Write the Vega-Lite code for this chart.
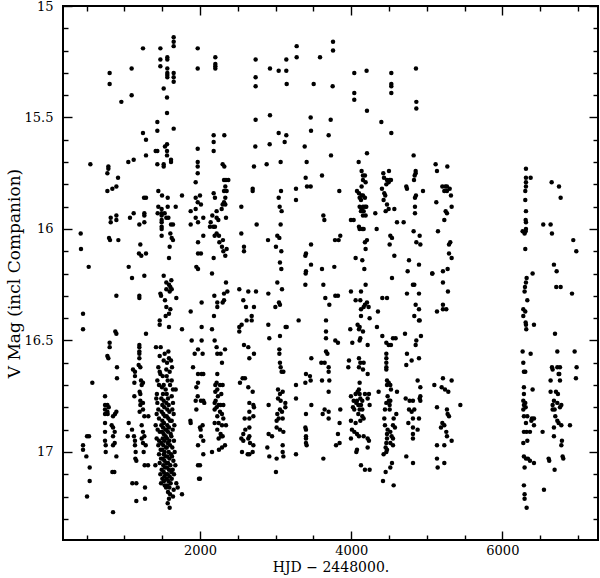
{
"$schema": "https://vega.github.io/schema/vega-lite/v6.json",
"width": 535, "height": 534,
"autosize": "none",
"padding": {"left": 63, "top": 6, "right": 2, "bottom": 38},
"background": "white",
"config": {
 "view": {"stroke": "black", "strokeWidth": 2},
 "axis": {"grid": false, "domain": false, "tickColor": "black", "tickWidth": 1.4, "labelColor": "black", "titleColor": "black", "labelFont": "DejaVu Serif", "titleFont": "DejaVu Serif", "labelFontSize": 13, "titleFontSize": 13, "titleFontWeight": "normal"}
},
"data": {"values": [
{"hjd":1652,"vmag":15.14},{"hjd":1652,"vmag":15.16},{"hjd":1652,"vmag":15.18},{"hjd":1246,"vmag":15.19},{"hjd":1476,"vmag":15.19},{"hjd":1970,"vmag":15.19},
{"hjd":1568,"vmag":15.23},{"hjd":1568,"vmag":15.24},{"hjd":1476,"vmag":15.24},{"hjd":1476,"vmag":15.27},{"hjd":1970,"vmag":15.28},{"hjd":1568,"vmag":15.28},{"hjd":805,"vmag":15.30},{"hjd":1096,"vmag":15.28},
{"hjd":1568,"vmag":15.30},{"hjd":1568,"vmag":15.31},{"hjd":1568,"vmag":15.32},{"hjd":1652,"vmag":15.30},{"hjd":1652,"vmag":15.32},{"hjd":1652,"vmag":15.34},{"hjd":805,"vmag":15.35},{"hjd":1096,"vmag":15.40},{"hjd":960,"vmag":15.43},{"hjd":1520,"vmag":15.37},{"hjd":1564,"vmag":15.41},{"hjd":1564,"vmag":15.48},{"hjd":1436,"vmag":15.52},{"hjd":1436,"vmag":15.56},{"hjd":1652,"vmag":15.55},{"hjd":1246,"vmag":15.57},{"hjd":1286,"vmag":15.60},{"hjd":1970,"vmag":15.64},{"hjd":1414,"vmag":15.65},{"hjd":1436,"vmag":15.65},{"hjd":1564,"vmag":15.62},{"hjd":1537,"vmag":15.63},{"hjd":1564,"vmag":15.65},{"hjd":1564,"vmag":15.67},{"hjd":1617,"vmag":15.69},{"hjd":1617,"vmag":15.70},{"hjd":1286,"vmag":15.67},{"hjd":1052,"vmag":15.70},{"hjd":1123,"vmag":15.69},{"hjd":1436,"vmag":15.71},{"hjd":1520,"vmag":15.71},{"hjd":1520,"vmag":15.72},{"hjd":1970,"vmag":15.70},{"hjd":1970,"vmag":15.72},{"hjd":550,"vmag":15.71},{"hjd":788,"vmag":15.72},{"hjd":788,"vmag":15.73},{"hjd":775,"vmag":15.75},{"hjd":916,"vmag":15.77},{"hjd":1970,"vmag":15.75},{"hjd":1943,"vmag":15.79},{"hjd":775,"vmag":15.83},{"hjd":841,"vmag":15.82},{"hjd":894,"vmag":15.81},{"hjd":1449,"vmag":15.83},{"hjd":1498,"vmag":15.85},{"hjd":1762,"vmag":15.85},{"hjd":1573,"vmag":15.86},{"hjd":1260,"vmag":15.86},{"hjd":1286,"vmag":15.86},{"hjd":1943,"vmag":15.86},{"hjd":1970,"vmag":15.88},{"hjd":1573,"vmag":15.90},{"hjd":1449,"vmag":15.90},{"hjd":1679,"vmag":15.90},{"hjd":1877,"vmag":15.92},{"hjd":1943,"vmag":15.91},
{"hjd":1493,"vmag":15.91},{"hjd":1493,"vmag":15.93},{"hjd":1493,"vmag":15.94},{"hjd":1493,"vmag":15.96},{"hjd":1493,"vmag":15.97},{"hjd":1493,"vmag":15.99},{"hjd":1493,"vmag":16.00},{"hjd":1493,"vmag":16.03},
{"hjd":1533,"vmag":15.93},{"hjd":1555,"vmag":15.95},{"hjd":1440,"vmag":15.93},{"hjd":1582,"vmag":15.95},{"hjd":1264,"vmag":15.93},{"hjd":1264,"vmag":15.94},{"hjd":1123,"vmag":15.93},{"hjd":894,"vmag":15.94},{"hjd":894,"vmag":15.96},{"hjd":819,"vmag":15.95},{"hjd":819,"vmag":15.97},{"hjd":1074,"vmag":15.95},{"hjd":1198,"vmag":15.98},{"hjd":1264,"vmag":15.97},{"hjd":1617,"vmag":15.98},{"hjd":1643,"vmag":15.98},{"hjd":1877,"vmag":15.98},{"hjd":1943,"vmag":15.95},{"hjd":1974,"vmag":15.97},
{"hjd":1608,"vmag":16.02},{"hjd":1626,"vmag":16.04},{"hjd":1643,"vmag":16.05},{"hjd":1599,"vmag":16.08},{"hjd":1590,"vmag":16.13},{"hjd":422,"vmag":16.02},{"hjd":797,"vmag":16.04},{"hjd":810,"vmag":16.05},{"hjd":920,"vmag":16.05},{"hjd":1211,"vmag":16.07},{"hjd":1193,"vmag":16.11},{"hjd":1224,"vmag":16.12},{"hjd":1286,"vmag":16.11},{"hjd":426,"vmag":16.09},{"hjd":1974,"vmag":16.06},{"hjd":1974,"vmag":16.11},{"hjd":528,"vmag":16.17},{"hjd":1057,"vmag":16.17},{"hjd":1952,"vmag":16.17},{"hjd":1974,"vmag":16.18},
{"hjd":1101,"vmag":16.22},{"hjd":1264,"vmag":16.21},{"hjd":1520,"vmag":16.21},{"hjd":1621,"vmag":16.23},{"hjd":1555,"vmag":16.24},{"hjd":1590,"vmag":16.25},{"hjd":1608,"vmag":16.26},{"hjd":1555,"vmag":16.27},{"hjd":1599,"vmag":16.28},{"hjd":1626,"vmag":16.27},{"hjd":894,"vmag":16.30},{"hjd":1198,"vmag":16.30},{"hjd":1198,"vmag":16.31},{"hjd":1476,"vmag":16.29},{"hjd":1485,"vmag":16.30},{"hjd":1687,"vmag":16.31},{"hjd":1537,"vmag":16.32},{"hjd":1555,"vmag":16.35},{"hjd":1608,"vmag":16.36},{"hjd":1590,"vmag":16.38},{"hjd":1546,"vmag":16.39},{"hjd":453,"vmag":16.38},{"hjd":453,"vmag":16.45},{"hjd":1467,"vmag":16.41},{"hjd":1467,"vmag":16.43},{"hjd":1590,"vmag":16.44},{"hjd":1762,"vmag":16.45},{"hjd":1877,"vmag":16.37},{"hjd":880,"vmag":16.46},{"hjd":894,"vmag":16.47},{"hjd":1286,"vmag":16.47},{"hjd":1890,"vmag":16.50},{"hjd":805,"vmag":16.51},{"hjd":805,"vmag":16.53},{"hjd":775,"vmag":16.57},{"hjd":788,"vmag":16.58},
{"hjd":1198,"vmag":16.52},{"hjd":1198,"vmag":16.53},{"hjd":1198,"vmag":16.55},{"hjd":1198,"vmag":16.56},{"hjd":1198,"vmag":16.58},{"hjd":1418,"vmag":16.53},{"hjd":1480,"vmag":16.53},{"hjd":1582,"vmag":16.55},{"hjd":1533,"vmag":16.56},{"hjd":1467,"vmag":16.57},{"hjd":1520,"vmag":16.59},{"hjd":1617,"vmag":16.59},{"hjd":1564,"vmag":16.60},{"hjd":1189,"vmag":16.61},{"hjd":1211,"vmag":16.62},{"hjd":1114,"vmag":16.63},{"hjd":1140,"vmag":16.64},{"hjd":902,"vmag":16.62},{"hjd":902,"vmag":16.67},{"hjd":1467,"vmag":16.64},{"hjd":1555,"vmag":16.63},{"hjd":1599,"vmag":16.64},{"hjd":576,"vmag":16.69},{"hjd":1507,"vmag":16.66},{"hjd":1573,"vmag":16.68},{"hjd":1626,"vmag":16.68},{"hjd":1520,"vmag":16.70},{"hjd":1458,"vmag":16.70},{"hjd":1546,"vmag":16.72},{"hjd":1643,"vmag":16.72},{"hjd":1679,"vmag":16.72},{"hjd":1140,"vmag":16.66},{"hjd":1132,"vmag":16.69},{"hjd":1220,"vmag":16.68},{"hjd":1246,"vmag":16.69},{"hjd":1229,"vmag":16.70},{"hjd":1202,"vmag":16.73},
{"hjd":744,"vmag":16.75},{"hjd":744,"vmag":16.79},{"hjd":744,"vmag":16.81},{"hjd":744,"vmag":16.83},{"hjd":744,"vmag":16.87},{"hjd":775,"vmag":16.79},{"hjd":793,"vmag":16.80},{"hjd":775,"vmag":16.82},{"hjd":779,"vmag":16.83},{"hjd":894,"vmag":16.82},{"hjd":876,"vmag":16.83},{"hjd":850,"vmag":16.84},{"hjd":1132,"vmag":16.75},{"hjd":1211,"vmag":16.74},{"hjd":1211,"vmag":16.77},{"hjd":1246,"vmag":16.78},{"hjd":1211,"vmag":16.79},{"hjd":1246,"vmag":16.81},{"hjd":1202,"vmag":16.82},{"hjd":1264,"vmag":16.84},{"hjd":1317,"vmag":16.84},
{"hjd":1057,"vmag":16.87},{"hjd":1044,"vmag":16.93},{"hjd":1101,"vmag":16.90},{"hjd":1127,"vmag":16.93},{"hjd":1140,"vmag":16.95},{"hjd":1140,"vmag":16.97},{"hjd":1149,"vmag":17.00},{"hjd":1145,"vmag":17.03},{"hjd":1158,"vmag":17.04},{"hjd":1229,"vmag":16.88},{"hjd":1246,"vmag":16.91},{"hjd":1264,"vmag":16.93},{"hjd":1229,"vmag":16.94},{"hjd":1246,"vmag":16.96},{"hjd":1282,"vmag":16.97},{"hjd":1255,"vmag":17.00},{"hjd":1268,"vmag":17.06},{"hjd":1313,"vmag":17.06},{"hjd":744,"vmag":16.91},{"hjd":744,"vmag":16.95},{"hjd":753,"vmag":16.97},{"hjd":753,"vmag":17.00},{"hjd":832,"vmag":16.88},{"hjd":850,"vmag":16.89},{"hjd":872,"vmag":16.91},{"hjd":850,"vmag":16.93},{"hjd":872,"vmag":16.96},{"hjd":850,"vmag":16.97},{"hjd":894,"vmag":17.02},{"hjd":453,"vmag":16.97},{"hjd":453,"vmag":16.99},{"hjd":506,"vmag":16.93},{"hjd":532,"vmag":16.93},{"hjd":497,"vmag":17.02},{"hjd":541,"vmag":17.07},{"hjd":541,"vmag":17.13},{"hjd":506,"vmag":17.20},{"hjd":841,"vmag":17.09},{"hjd":867,"vmag":17.09},{"hjd":850,"vmag":17.27},{"hjd":1105,"vmag":17.14},{"hjd":1158,"vmag":17.14},{"hjd":1158,"vmag":17.22},{"hjd":1273,"vmag":17.21},{"hjd":1273,"vmag":17.16},{"hjd":1410,"vmag":17.06},
{"hjd":1877,"vmag":16.87},{"hjd":1873,"vmag":16.86},{"hjd":1974,"vmag":16.97},{"hjd":1974,"vmag":17.06},{"hjd":1987,"vmag":17.12},{"hjd":1974,"vmag":16.65},{"hjd":1974,"vmag":16.69},{"hjd":1952,"vmag":16.71},{"hjd":1970,"vmag":16.75},{"hjd":1943,"vmag":16.77},{"hjd":1952,"vmag":16.81},{"hjd":1930,"vmag":16.56},{"hjd":1974,"vmag":16.54},{"hjd":1908,"vmag":16.62},
{"hjd":1430,"vmag":16.74},{"hjd":1422,"vmag":16.76},{"hjd":1436,"vmag":16.78},{"hjd":1449,"vmag":16.81},{"hjd":1427,"vmag":16.83},{"hjd":1458,"vmag":16.85},{"hjd":1414,"vmag":16.88},{"hjd":1440,"vmag":16.90},{"hjd":1467,"vmag":16.91},{"hjd":1427,"vmag":16.94},{"hjd":1458,"vmag":16.95},{"hjd":1449,"vmag":16.97},{"hjd":1480,"vmag":16.99},{"hjd":1458,"vmag":17.01},{"hjd":1485,"vmag":17.03},{"hjd":1467,"vmag":17.05},{"hjd":1493,"vmag":17.08},{"hjd":1476,"vmag":17.10},{"hjd":1502,"vmag":17.12},{"hjd":1485,"vmag":17.14},{"hjd":1533,"vmag":17.15},
{"hjd":1498,"vmag":16.71},{"hjd":1511,"vmag":16.74},{"hjd":1489,"vmag":16.76},{"hjd":1520,"vmag":16.77},{"hjd":1502,"vmag":16.79},{"hjd":1529,"vmag":16.80},{"hjd":1493,"vmag":16.82},{"hjd":1515,"vmag":16.83},{"hjd":1537,"vmag":16.84},{"hjd":1502,"vmag":16.86},{"hjd":1524,"vmag":16.87},{"hjd":1489,"vmag":16.88},{"hjd":1511,"vmag":16.89},{"hjd":1542,"vmag":16.90},{"hjd":1498,"vmag":16.91},{"hjd":1520,"vmag":16.92},{"hjd":1546,"vmag":16.93},{"hjd":1507,"vmag":16.94},{"hjd":1529,"vmag":16.95},{"hjd":1489,"vmag":16.96},{"hjd":1515,"vmag":16.97},{"hjd":1551,"vmag":16.98},{"hjd":1502,"vmag":16.99},{"hjd":1533,"vmag":17.00},{"hjd":1520,"vmag":17.01},{"hjd":1546,"vmag":17.02},{"hjd":1507,"vmag":17.03},{"hjd":1529,"vmag":17.04},{"hjd":1555,"vmag":17.05},{"hjd":1515,"vmag":17.06},{"hjd":1537,"vmag":17.07},{"hjd":1520,"vmag":17.09},{"hjd":1546,"vmag":17.10},{"hjd":1529,"vmag":17.11},{"hjd":1560,"vmag":17.12},{"hjd":1524,"vmag":17.13},{"hjd":1551,"vmag":17.16},
{"hjd":1560,"vmag":16.74},{"hjd":1577,"vmag":16.76},{"hjd":1555,"vmag":16.78},{"hjd":1586,"vmag":16.79},{"hjd":1568,"vmag":16.81},{"hjd":1595,"vmag":16.82},{"hjd":1560,"vmag":16.84},{"hjd":1582,"vmag":16.85},{"hjd":1604,"vmag":16.86},{"hjd":1568,"vmag":16.88},{"hjd":1590,"vmag":16.89},{"hjd":1555,"vmag":16.90},{"hjd":1577,"vmag":16.91},{"hjd":1612,"vmag":16.92},{"hjd":1564,"vmag":16.94},{"hjd":1595,"vmag":16.95},{"hjd":1573,"vmag":16.96},{"hjd":1604,"vmag":16.97},{"hjd":1560,"vmag":16.98},{"hjd":1586,"vmag":17.00},{"hjd":1617,"vmag":17.01},{"hjd":1568,"vmag":17.02},{"hjd":1595,"vmag":17.03},{"hjd":1577,"vmag":17.05},{"hjd":1608,"vmag":17.06},{"hjd":1564,"vmag":17.07},{"hjd":1590,"vmag":17.08},{"hjd":1621,"vmag":17.09},{"hjd":1573,"vmag":17.10},{"hjd":1599,"vmag":17.11},{"hjd":1582,"vmag":17.13},{"hjd":1612,"vmag":17.14},{"hjd":1568,"vmag":17.15},{"hjd":1595,"vmag":17.16},{"hjd":1577,"vmag":17.18},{"hjd":1604,"vmag":17.19},{"hjd":1590,"vmag":17.21},{"hjd":1573,"vmag":17.23},{"hjd":1599,"vmag":17.25},
{"hjd":1626,"vmag":16.75},{"hjd":1643,"vmag":16.78},{"hjd":1634,"vmag":16.81},{"hjd":1652,"vmag":16.83},{"hjd":1626,"vmag":16.86},{"hjd":1661,"vmag":16.88},{"hjd":1639,"vmag":16.90},{"hjd":1621,"vmag":16.93},{"hjd":1656,"vmag":16.95},{"hjd":1634,"vmag":16.98},{"hjd":1665,"vmag":17.00},{"hjd":1630,"vmag":17.02},{"hjd":1648,"vmag":17.04},{"hjd":1674,"vmag":17.06},{"hjd":1639,"vmag":17.08},{"hjd":1656,"vmag":17.10},{"hjd":1626,"vmag":17.12},{"hjd":1687,"vmag":17.14},{"hjd":1652,"vmag":17.17},{"hjd":1705,"vmag":17.16},{"hjd":1762,"vmag":17.19},{"hjd":1643,"vmag":17.20},
{"hjd":1449,"vmag":16.62},{"hjd":1476,"vmag":16.65},{"hjd":1560,"vmag":16.66},{"hjd":1604,"vmag":16.70},{"hjd":1630,"vmag":16.62},{"hjd":1590,"vmag":16.58},{"hjd":1436,"vmag":16.68},
{"hjd":2203,"vmag":15.23},{"hjd":2203,"vmag":15.26},{"hjd":2203,"vmag":15.27},{"hjd":2203,"vmag":15.28},{"hjd":2736,"vmag":15.24},{"hjd":2926,"vmag":15.28},{"hjd":3041,"vmag":15.29},{"hjd":3142,"vmag":15.24},{"hjd":3142,"vmag":15.29},{"hjd":3279,"vmag":15.18},{"hjd":3279,"vmag":15.23},{"hjd":3760,"vmag":15.16},{"hjd":3760,"vmag":15.20},{"hjd":3588,"vmag":15.23},{"hjd":2736,"vmag":15.32},{"hjd":2736,"vmag":15.36},{"hjd":3147,"vmag":15.35},{"hjd":3504,"vmag":15.35},{"hjd":3755,"vmag":15.36},{"hjd":2736,"vmag":15.51},{"hjd":2926,"vmag":15.49},{"hjd":3464,"vmag":15.50},{"hjd":3729,"vmag":15.51},{"hjd":2181,"vmag":15.58},{"hjd":2181,"vmag":15.61},{"hjd":2181,"vmag":15.65},{"hjd":2322,"vmag":15.58},{"hjd":3041,"vmag":15.57},{"hjd":3142,"vmag":15.58},{"hjd":3120,"vmag":15.61},{"hjd":3469,"vmag":15.56},{"hjd":3702,"vmag":15.58},{"hjd":2732,"vmag":15.63},{"hjd":2922,"vmag":15.62},{"hjd":3385,"vmag":15.63},{"hjd":3733,"vmag":15.67},{"hjd":3067,"vmag":15.70},{"hjd":3411,"vmag":15.70},{"hjd":2300,"vmag":15.71},{"hjd":2322,"vmag":15.72},{"hjd":2714,"vmag":15.72},{"hjd":2882,"vmag":15.71},{"hjd":3398,"vmag":15.77},{"hjd":3614,"vmag":15.76},{"hjd":2318,"vmag":15.78},{"hjd":2344,"vmag":15.78},{"hjd":2375,"vmag":15.78},{"hjd":2335,"vmag":15.81},{"hjd":2318,"vmag":15.83},{"hjd":2353,"vmag":15.83},{"hjd":2697,"vmag":15.82},{"hjd":2697,"vmag":15.83},{"hjd":3072,"vmag":15.83},{"hjd":3270,"vmag":15.82},{"hjd":3270,"vmag":15.87},{"hjd":3416,"vmag":15.81},{"hjd":3464,"vmag":15.81},{"hjd":2000,"vmag":15.85},{"hjd":2181,"vmag":15.84},{"hjd":2198,"vmag":15.86},{"hjd":3041,"vmag":15.86},{"hjd":2335,"vmag":15.86},{"hjd":2318,"vmag":15.88},{"hjd":2300,"vmag":15.89},{"hjd":2335,"vmag":15.89},{"hjd":2287,"vmag":15.91},{"hjd":2547,"vmag":15.90},{"hjd":2013,"vmag":15.89},{"hjd":3054,"vmag":15.90},{"hjd":3080,"vmag":15.92},{"hjd":2220,"vmag":15.92},{"hjd":2344,"vmag":15.95},{"hjd":2163,"vmag":15.94},{"hjd":2220,"vmag":15.95},{"hjd":2243,"vmag":15.96},{"hjd":2044,"vmag":15.95},{"hjd":2750,"vmag":15.98},{"hjd":3067,"vmag":15.98},{"hjd":3632,"vmag":15.94},{"hjd":3645,"vmag":15.96},{"hjd":2141,"vmag":15.97},{"hjd":2132,"vmag":15.99},{"hjd":2176,"vmag":15.99},{"hjd":2198,"vmag":15.99},{"hjd":2220,"vmag":16.02},{"hjd":2194,"vmag":16.03},{"hjd":2251,"vmag":16.03},{"hjd":2044,"vmag":16.03},{"hjd":2547,"vmag":16.02},{"hjd":3023,"vmag":16.03},{"hjd":3050,"vmag":16.04},{"hjd":2900,"vmag":16.05},{"hjd":2304,"vmag":16.05},{"hjd":2256,"vmag":16.06},{"hjd":2291,"vmag":16.08},{"hjd":2309,"vmag":16.10},{"hjd":2353,"vmag":16.09},{"hjd":2582,"vmag":16.08},{"hjd":2582,"vmag":16.10},{"hjd":3005,"vmag":16.08},{"hjd":3469,"vmag":16.07},{"hjd":3402,"vmag":16.11},{"hjd":3394,"vmag":16.12},{"hjd":3076,"vmag":16.10},{"hjd":2013,"vmag":16.11},{"hjd":2181,"vmag":16.13},{"hjd":2335,"vmag":16.12},{"hjd":3058,"vmag":16.15},{"hjd":3076,"vmag":16.18},{"hjd":3469,"vmag":16.16},{"hjd":3614,"vmag":16.18},{"hjd":3777,"vmag":16.17},{"hjd":2159,"vmag":16.20},{"hjd":3402,"vmag":16.19},{"hjd":3786,"vmag":16.05},
{"hjd":2344,"vmag":16.24},{"hjd":2318,"vmag":16.29},{"hjd":2362,"vmag":16.28},{"hjd":2318,"vmag":16.32},{"hjd":2300,"vmag":16.33},{"hjd":2190,"vmag":16.30},{"hjd":2229,"vmag":16.33},{"hjd":2229,"vmag":16.35},{"hjd":2185,"vmag":16.39},{"hjd":2520,"vmag":16.27},{"hjd":2639,"vmag":16.28},{"hjd":2741,"vmag":16.28},{"hjd":2573,"vmag":16.32},{"hjd":2609,"vmag":16.35},{"hjd":2714,"vmag":16.35},{"hjd":2684,"vmag":16.39},{"hjd":2684,"vmag":16.41},{"hjd":2617,"vmag":16.41},{"hjd":2551,"vmag":16.43},{"hjd":2520,"vmag":16.44},{"hjd":2520,"vmag":16.46},{"hjd":2904,"vmag":16.29},{"hjd":3023,"vmag":16.24},{"hjd":3085,"vmag":16.27},{"hjd":3045,"vmag":16.33},{"hjd":3058,"vmag":16.34},{"hjd":2997,"vmag":16.35},{"hjd":2904,"vmag":16.43},{"hjd":3147,"vmag":16.44},{"hjd":3133,"vmag":16.44},{"hjd":2917,"vmag":16.49},{"hjd":3058,"vmag":16.48},{"hjd":3398,"vmag":16.20},{"hjd":3394,"vmag":16.25},{"hjd":3305,"vmag":16.41},{"hjd":3632,"vmag":16.25},{"hjd":3658,"vmag":16.31},{"hjd":3711,"vmag":16.34},{"hjd":3790,"vmag":16.30},{"hjd":3667,"vmag":16.41},{"hjd":3667,"vmag":16.46},{"hjd":3667,"vmag":16.49},{"hjd":3790,"vmag":16.50},{"hjd":2159,"vmag":16.45},{"hjd":2022,"vmag":16.33},{"hjd":2022,"vmag":16.44},{"hjd":2022,"vmag":16.50},{"hjd":2194,"vmag":16.50},{"hjd":2220,"vmag":16.53},{"hjd":2273,"vmag":16.56},{"hjd":2331,"vmag":16.54},{"hjd":2229,"vmag":16.56},{"hjd":2291,"vmag":16.60},{"hjd":2035,"vmag":16.56},{"hjd":2582,"vmag":16.52},{"hjd":2639,"vmag":16.53},{"hjd":2653,"vmag":16.58},{"hjd":2714,"vmag":16.56},{"hjd":3050,"vmag":16.54},{"hjd":3050,"vmag":16.56},{"hjd":3058,"vmag":16.60},{"hjd":3067,"vmag":16.62},{"hjd":3080,"vmag":16.64},{"hjd":3103,"vmag":16.64},{"hjd":3473,"vmag":16.58},{"hjd":3605,"vmag":16.60},{"hjd":3649,"vmag":16.60},{"hjd":3667,"vmag":16.55},{"hjd":3685,"vmag":16.56},{"hjd":3702,"vmag":16.62},{"hjd":3702,"vmag":16.64},{"hjd":3402,"vmag":16.65},{"hjd":3455,"vmag":16.66},{"hjd":3464,"vmag":16.68},{"hjd":3394,"vmag":16.69},{"hjd":3270,"vmag":16.70},{"hjd":3270,"vmag":16.76},{"hjd":3614,"vmag":16.68},{"hjd":3711,"vmag":16.68},{"hjd":3702,"vmag":16.73},{"hjd":2044,"vmag":16.65},{"hjd":2022,"vmag":16.65},{"hjd":2229,"vmag":16.65},{"hjd":2220,"vmag":16.69},{"hjd":2529,"vmag":16.69},{"hjd":2564,"vmag":16.67},{"hjd":2595,"vmag":16.67},{"hjd":2639,"vmag":16.71},{"hjd":2697,"vmag":16.73},{"hjd":2203,"vmag":16.70},{"hjd":2229,"vmag":16.72},{"hjd":2203,"vmag":16.73},{"hjd":2265,"vmag":16.70},{"hjd":2300,"vmag":16.70},{"hjd":2238,"vmag":16.75},{"hjd":2282,"vmag":16.74},
{"hjd":2908,"vmag":16.79},{"hjd":3032,"vmag":16.72},{"hjd":3058,"vmag":16.74},{"hjd":3094,"vmag":16.73},{"hjd":3032,"vmag":16.76},{"hjd":3129,"vmag":16.78},{"hjd":3129,"vmag":16.80},{"hjd":3067,"vmag":16.77},{"hjd":3058,"vmag":16.81},{"hjd":3085,"vmag":16.82},{"hjd":3023,"vmag":16.83},{"hjd":3041,"vmag":16.85},{"hjd":3014,"vmag":16.86},{"hjd":3094,"vmag":16.85},{"hjd":3014,"vmag":16.89},{"hjd":3058,"vmag":16.90},{"hjd":3103,"vmag":16.91},
{"hjd":2653,"vmag":16.78},{"hjd":2706,"vmag":16.79},{"hjd":2714,"vmag":16.80},{"hjd":2653,"vmag":16.82},{"hjd":2591,"vmag":16.85},{"hjd":2653,"vmag":16.85},{"hjd":2706,"vmag":16.84},
{"hjd":2044,"vmag":16.77},{"hjd":2013,"vmag":16.77},{"hjd":2057,"vmag":16.78},{"hjd":2207,"vmag":16.77},{"hjd":2194,"vmag":16.78},{"hjd":2220,"vmag":16.80},{"hjd":2247,"vmag":16.79},{"hjd":2273,"vmag":16.79},{"hjd":2309,"vmag":16.79},{"hjd":2194,"vmag":16.81},{"hjd":2265,"vmag":16.82},{"hjd":2291,"vmag":16.83},{"hjd":2229,"vmag":16.84},{"hjd":2309,"vmag":16.85},{"hjd":2194,"vmag":16.87},{"hjd":2247,"vmag":16.87},{"hjd":2291,"vmag":16.88},{"hjd":2344,"vmag":16.88},{"hjd":2229,"vmag":16.90},{"hjd":2273,"vmag":16.92},{"hjd":2282,"vmag":16.93},{"hjd":2300,"vmag":16.93},{"hjd":2247,"vmag":16.94},{"hjd":2035,"vmag":16.88},{"hjd":2000,"vmag":16.89},{"hjd":2009,"vmag":16.90},{"hjd":2013,"vmag":16.93},{"hjd":2653,"vmag":16.89},{"hjd":2600,"vmag":16.90},{"hjd":2573,"vmag":16.92},{"hjd":2653,"vmag":16.93},{"hjd":2547,"vmag":16.94},{"hjd":2573,"vmag":16.95},{"hjd":2639,"vmag":16.94},{"hjd":2662,"vmag":16.96},{"hjd":2706,"vmag":16.97},{"hjd":2331,"vmag":16.97},{"hjd":2291,"vmag":16.98},{"hjd":2251,"vmag":16.99},{"hjd":2159,"vmag":17.00},{"hjd":2044,"vmag":16.95},{"hjd":2044,"vmag":17.01},{"hjd":2556,"vmag":17.00},{"hjd":2631,"vmag":17.01},{"hjd":2653,"vmag":17.01},{"hjd":2697,"vmag":17.00},{"hjd":2908,"vmag":16.92},{"hjd":2953,"vmag":16.93},{"hjd":2891,"vmag":16.98},{"hjd":2917,"vmag":17.02},{"hjd":3094,"vmag":16.97},{"hjd":3094,"vmag":17.00},{"hjd":3103,"vmag":17.02},{"hjd":3014,"vmag":17.03},{"hjd":3005,"vmag":17.09},{"hjd":3270,"vmag":17.01},{"hjd":3402,"vmag":16.83},{"hjd":3394,"vmag":16.89},{"hjd":3402,"vmag":16.90},{"hjd":3402,"vmag":16.93},{"hjd":3402,"vmag":16.94},{"hjd":3402,"vmag":16.96},{"hjd":3411,"vmag":16.97},{"hjd":3473,"vmag":16.79},{"hjd":3623,"vmag":16.83},{"hjd":3649,"vmag":16.81},{"hjd":3702,"vmag":16.82},{"hjd":3702,"vmag":16.85},{"hjd":3632,"vmag":17.03},{"hjd":2000,"vmag":17.06},{"hjd":2000,"vmag":17.12},{"hjd":3800,"vmag":16.97},
{"hjd":4041,"vmag":15.30},{"hjd":4204,"vmag":15.29},{"hjd":4531,"vmag":15.30},{"hjd":4857,"vmag":15.28},{"hjd":4041,"vmag":15.39},{"hjd":4041,"vmag":15.42},{"hjd":4531,"vmag":15.35},{"hjd":4531,"vmag":15.36},{"hjd":4531,"vmag":15.39},{"hjd":4862,"vmag":15.43},{"hjd":4862,"vmag":15.46},{"hjd":4209,"vmag":15.47},{"hjd":4399,"vmag":15.52},{"hjd":4531,"vmag":15.57},{"hjd":4209,"vmag":15.66},{"hjd":4099,"vmag":15.70},{"hjd":4826,"vmag":15.67},{"hjd":5117,"vmag":15.71},{"hjd":5135,"vmag":15.74},{"hjd":5272,"vmag":15.72},{"hjd":4138,"vmag":15.74},{"hjd":4156,"vmag":15.76},{"hjd":4182,"vmag":15.76},{"hjd":4156,"vmag":15.78},{"hjd":4191,"vmag":15.79},{"hjd":4138,"vmag":15.81},{"hjd":4425,"vmag":15.75},{"hjd":4434,"vmag":15.77},{"hjd":4500,"vmag":15.74},{"hjd":4474,"vmag":15.78},{"hjd":4509,"vmag":15.78},{"hjd":4526,"vmag":15.78},{"hjd":4465,"vmag":15.80},{"hjd":4496,"vmag":15.79},{"hjd":4853,"vmag":15.74},{"hjd":4853,"vmag":15.75},{"hjd":4840,"vmag":15.76},{"hjd":4831,"vmag":15.78},{"hjd":4729,"vmag":15.81},{"hjd":4738,"vmag":15.82},{"hjd":4950,"vmag":15.83},{"hjd":5206,"vmag":15.81},{"hjd":5245,"vmag":15.81},{"hjd":5267,"vmag":15.81},{"hjd":5303,"vmag":15.82},{"hjd":5232,"vmag":15.83},{"hjd":5320,"vmag":15.85},{"hjd":5267,"vmag":15.83},{"hjd":3843,"vmag":15.83},{"hjd":4077,"vmag":15.83},{"hjd":4103,"vmag":15.84},{"hjd":4138,"vmag":15.85},{"hjd":4112,"vmag":15.86},{"hjd":4156,"vmag":15.85},{"hjd":4182,"vmag":15.86},{"hjd":4130,"vmag":15.87},{"hjd":4407,"vmag":15.82},{"hjd":4438,"vmag":15.84},{"hjd":4451,"vmag":15.85},{"hjd":4429,"vmag":15.87},{"hjd":4474,"vmag":15.89},{"hjd":4857,"vmag":15.85},{"hjd":4844,"vmag":15.86},{"hjd":4844,"vmag":15.90},{"hjd":4844,"vmag":15.93},{"hjd":5126,"vmag":15.88},{"hjd":4112,"vmag":15.90},{"hjd":4138,"vmag":15.91},{"hjd":4156,"vmag":15.90},{"hjd":4182,"vmag":15.90},{"hjd":4200,"vmag":15.90},{"hjd":4130,"vmag":15.92},{"hjd":4165,"vmag":15.92},{"hjd":4456,"vmag":15.92},{"hjd":4496,"vmag":15.91},{"hjd":4571,"vmag":15.91},{"hjd":5329,"vmag":15.90},{"hjd":5250,"vmag":15.92},{"hjd":5267,"vmag":15.93},{"hjd":5232,"vmag":15.96},{"hjd":4156,"vmag":15.94},{"hjd":4191,"vmag":15.94},{"hjd":4319,"vmag":15.93},{"hjd":3997,"vmag":15.96},{"hjd":4033,"vmag":15.96},{"hjd":4103,"vmag":15.99},{"hjd":4112,"vmag":16.00},{"hjd":4147,"vmag":16.00},{"hjd":4165,"vmag":16.00},{"hjd":4337,"vmag":16.00},{"hjd":4606,"vmag":15.97},{"hjd":4694,"vmag":15.97},{"hjd":4826,"vmag":16.01},{"hjd":4906,"vmag":16.03},{"hjd":5148,"vmag":16.01},{"hjd":3856,"vmag":16.03},{"hjd":3834,"vmag":16.05},{"hjd":4518,"vmag":16.03},{"hjd":4540,"vmag":16.04},{"hjd":4509,"vmag":16.07},{"hjd":4209,"vmag":16.05},{"hjd":4182,"vmag":16.06},{"hjd":4862,"vmag":16.06},{"hjd":4915,"vmag":16.07},{"hjd":5311,"vmag":16.06},{"hjd":5294,"vmag":16.07},{"hjd":4191,"vmag":16.09},{"hjd":5294,"vmag":16.11},{"hjd":4571,"vmag":16.12},{"hjd":4059,"vmag":16.13},{"hjd":4147,"vmag":16.14},{"hjd":4765,"vmag":16.14},{"hjd":5329,"vmag":16.13},{"hjd":4897,"vmag":16.16},{"hjd":4174,"vmag":16.18},{"hjd":4747,"vmag":16.19},{"hjd":5073,"vmag":16.20},{"hjd":5214,"vmag":16.19},{"hjd":5276,"vmag":16.18},
{"hjd":4540,"vmag":16.22},{"hjd":5073,"vmag":16.20},{"hjd":5214,"vmag":16.24},{"hjd":5280,"vmag":16.28},{"hjd":4817,"vmag":16.25},{"hjd":4835,"vmag":16.25},{"hjd":4738,"vmag":16.29},{"hjd":4897,"vmag":16.29},{"hjd":4191,"vmag":16.25},{"hjd":3997,"vmag":16.28},{"hjd":4130,"vmag":16.28},{"hjd":3825,"vmag":16.30},{"hjd":4059,"vmag":16.32},{"hjd":4121,"vmag":16.32},{"hjd":4209,"vmag":16.33},{"hjd":4182,"vmag":16.34},{"hjd":4165,"vmag":16.35},{"hjd":4130,"vmag":16.36},{"hjd":4231,"vmag":16.35},{"hjd":4412,"vmag":16.31},{"hjd":4474,"vmag":16.31},{"hjd":4853,"vmag":16.34},{"hjd":4897,"vmag":16.36},{"hjd":4835,"vmag":16.39},{"hjd":4906,"vmag":16.41},{"hjd":4897,"vmag":16.41},{"hjd":5214,"vmag":16.34},{"hjd":5214,"vmag":16.36},{"hjd":5135,"vmag":16.37},{"hjd":5258,"vmag":16.36},{"hjd":4354,"vmag":16.37},{"hjd":4130,"vmag":16.39},{"hjd":4244,"vmag":16.40},{"hjd":4085,"vmag":16.43},{"hjd":4112,"vmag":16.44},{"hjd":4103,"vmag":16.45},{"hjd":4156,"vmag":16.46},{"hjd":4341,"vmag":16.44},{"hjd":3988,"vmag":16.45},{"hjd":4412,"vmag":16.48},{"hjd":4553,"vmag":16.49},{"hjd":4588,"vmag":16.49},{"hjd":4712,"vmag":16.47},{"hjd":4923,"vmag":16.48},{"hjd":4121,"vmag":16.49},{"hjd":4112,"vmag":16.50},{"hjd":4015,"vmag":16.51},{"hjd":4465,"vmag":16.51},{"hjd":4496,"vmag":16.52},{"hjd":4526,"vmag":16.52},{"hjd":4218,"vmag":16.52},{"hjd":4862,"vmag":16.50},{"hjd":4853,"vmag":16.52},{"hjd":3825,"vmag":16.51},{"hjd":4465,"vmag":16.56},{"hjd":4465,"vmag":16.58},{"hjd":4465,"vmag":16.60},{"hjd":4738,"vmag":16.56},{"hjd":4800,"vmag":16.59},{"hjd":4897,"vmag":16.58},{"hjd":4729,"vmag":16.61},{"hjd":3971,"vmag":16.59},{"hjd":3962,"vmag":16.62},{"hjd":4103,"vmag":16.58},{"hjd":4121,"vmag":16.60},{"hjd":4165,"vmag":16.60},{"hjd":4103,"vmag":16.62},{"hjd":4156,"vmag":16.63},{"hjd":4218,"vmag":16.65},{"hjd":4465,"vmag":16.62},{"hjd":4465,"vmag":16.63},{"hjd":4879,"vmag":16.68},{"hjd":4915,"vmag":16.71},{"hjd":4915,"vmag":16.75},{"hjd":4915,"vmag":16.77},{"hjd":5100,"vmag":16.70},{"hjd":5214,"vmag":16.67},{"hjd":5329,"vmag":16.68},{"hjd":5197,"vmag":16.71},{"hjd":5241,"vmag":16.72},{"hjd":5285,"vmag":16.73},{"hjd":4112,"vmag":16.69},{"hjd":4474,"vmag":16.68},{"hjd":4496,"vmag":16.69},{"hjd":4518,"vmag":16.70},{"hjd":4474,"vmag":16.70},{"hjd":4526,"vmag":16.72},{"hjd":4363,"vmag":16.73},{"hjd":4606,"vmag":16.73},{"hjd":4103,"vmag":16.72},{"hjd":4085,"vmag":16.73},{"hjd":4059,"vmag":16.74},{"hjd":4112,"vmag":16.74},{"hjd":4182,"vmag":16.74},{"hjd":4235,"vmag":16.74},{"hjd":3997,"vmag":16.75},{"hjd":4033,"vmag":16.77},{"hjd":4077,"vmag":16.77},{"hjd":4121,"vmag":16.76},{"hjd":4147,"vmag":16.77},{"hjd":4218,"vmag":16.76},{"hjd":4068,"vmag":16.78},{"hjd":4094,"vmag":16.79},{"hjd":4130,"vmag":16.79},{"hjd":4244,"vmag":16.79},{"hjd":4024,"vmag":16.80},{"hjd":4482,"vmag":16.75},{"hjd":4518,"vmag":16.77},{"hjd":4500,"vmag":16.77},{"hjd":4465,"vmag":16.78},{"hjd":4509,"vmag":16.79},{"hjd":4447,"vmag":16.81},{"hjd":4509,"vmag":16.81},{"hjd":4721,"vmag":16.76},{"hjd":4773,"vmag":16.77},{"hjd":4817,"vmag":16.77},{"hjd":4906,"vmag":16.76},{"hjd":3856,"vmag":16.81},{"hjd":4147,"vmag":16.81},{"hjd":4112,"vmag":16.81},{"hjd":4041,"vmag":16.81},{"hjd":4094,"vmag":16.83},{"hjd":4147,"vmag":16.84},{"hjd":4165,"vmag":16.85},{"hjd":4121,"vmag":16.86},{"hjd":4765,"vmag":16.81},{"hjd":4800,"vmag":16.82},{"hjd":4835,"vmag":16.81},{"hjd":4597,"vmag":16.83},{"hjd":4562,"vmag":16.85},{"hjd":5135,"vmag":16.80},{"hjd":5267,"vmag":16.81},{"hjd":5276,"vmag":16.83},{"hjd":5294,"vmag":16.84},{"hjd":5444,"vmag":16.79},{"hjd":4438,"vmag":16.85},{"hjd":4447,"vmag":16.88},{"hjd":4482,"vmag":16.90},{"hjd":4553,"vmag":16.88},{"hjd":4579,"vmag":16.89},{"hjd":4518,"vmag":16.91},{"hjd":4474,"vmag":16.92},{"hjd":4535,"vmag":16.93},{"hjd":4553,"vmag":16.94},{"hjd":4474,"vmag":16.94},{"hjd":4465,"vmag":16.96},{"hjd":4518,"vmag":16.96},{"hjd":4553,"vmag":16.97},{"hjd":4456,"vmag":16.98},{"hjd":4474,"vmag":16.99},{"hjd":4429,"vmag":17.01},{"hjd":4465,"vmag":17.00},{"hjd":4817,"vmag":16.85},{"hjd":4897,"vmag":16.85},{"hjd":4756,"vmag":16.87},{"hjd":4817,"vmag":16.89},{"hjd":4879,"vmag":16.90},{"hjd":4817,"vmag":16.92},{"hjd":4817,"vmag":16.94},{"hjd":5206,"vmag":16.87},{"hjd":5232,"vmag":16.88},{"hjd":5188,"vmag":16.89},{"hjd":5258,"vmag":16.91},{"hjd":5267,"vmag":16.93},{"hjd":5329,"vmag":16.95},{"hjd":5135,"vmag":16.97},{"hjd":5232,"vmag":16.97},{"hjd":3847,"vmag":16.87},{"hjd":3825,"vmag":16.92},{"hjd":3847,"vmag":16.96},{"hjd":3997,"vmag":16.86},{"hjd":4059,"vmag":16.87},{"hjd":4010,"vmag":16.90},{"hjd":4041,"vmag":16.91},{"hjd":4077,"vmag":16.92},{"hjd":4103,"vmag":16.93},{"hjd":3997,"vmag":16.94},{"hjd":4165,"vmag":16.93},{"hjd":4218,"vmag":16.94},{"hjd":4235,"vmag":16.95},{"hjd":4218,"vmag":16.98},{"hjd":4077,"vmag":16.99},{"hjd":4068,"vmag":17.00},{"hjd":4729,"vmag":17.02},{"hjd":4818,"vmag":17.05},{"hjd":5135,"vmag":17.03},{"hjd":5232,"vmag":17.05},{"hjd":5144,"vmag":17.07},{"hjd":4130,"vmag":17.06},{"hjd":4182,"vmag":17.08},{"hjd":4244,"vmag":17.08},{"hjd":4540,"vmag":17.05},{"hjd":4518,"vmag":17.07},{"hjd":4456,"vmag":17.09},{"hjd":4421,"vmag":17.13},{"hjd":4562,"vmag":17.15},
{"hjd":6312,"vmag":15.73},{"hjd":6312,"vmag":15.77},{"hjd":6374,"vmag":15.77},{"hjd":6312,"vmag":15.79},{"hjd":6312,"vmag":15.81},{"hjd":6303,"vmag":15.83},{"hjd":6303,"vmag":15.87},{"hjd":6312,"vmag":15.92},{"hjd":6308,"vmag":15.96},{"hjd":6312,"vmag":15.97},{"hjd":6312,"vmag":16.00},{"hjd":6268,"vmag":16.01},{"hjd":6294,"vmag":16.02},{"hjd":6308,"vmag":16.01},{"hjd":6303,"vmag":16.09},{"hjd":6652,"vmag":15.79},{"hjd":6749,"vmag":15.81},{"hjd":6771,"vmag":15.86},{"hjd":6541,"vmag":15.98},{"hjd":6638,"vmag":15.98},{"hjd":6656,"vmag":16.02},{"hjd":6938,"vmag":16.05},{"hjd":6978,"vmag":16.10},{"hjd":6682,"vmag":16.16},{"hjd":6718,"vmag":16.19},
{"hjd":6400,"vmag":16.20},{"hjd":6321,"vmag":16.22},{"hjd":6312,"vmag":16.24},{"hjd":6299,"vmag":16.26},{"hjd":6294,"vmag":16.28},{"hjd":6330,"vmag":16.32},{"hjd":6277,"vmag":16.36},{"hjd":6303,"vmag":16.37},{"hjd":6277,"vmag":16.39},{"hjd":6308,"vmag":16.42},{"hjd":6312,"vmag":16.43},{"hjd":6316,"vmag":16.45},{"hjd":6418,"vmag":16.43},{"hjd":6713,"vmag":16.26},{"hjd":6771,"vmag":16.26},{"hjd":6921,"vmag":16.29},{"hjd":6696,"vmag":16.47},{"hjd":6268,"vmag":16.55},{"hjd":6374,"vmag":16.56},{"hjd":6277,"vmag":16.60},{"hjd":6285,"vmag":16.64},{"hjd":6303,"vmag":16.64},{"hjd":6727,"vmag":16.55},{"hjd":6956,"vmag":16.55},{"hjd":6656,"vmag":16.62},{"hjd":6665,"vmag":16.63},{"hjd":6727,"vmag":16.62},{"hjd":6762,"vmag":16.62},{"hjd":6744,"vmag":16.65},{"hjd":6753,"vmag":16.65},{"hjd":6982,"vmag":16.62},{"hjd":6973,"vmag":16.67},{"hjd":6638,"vmag":16.68},{"hjd":6762,"vmag":16.68},{"hjd":6285,"vmag":16.71},{"hjd":6285,"vmag":16.74},{"hjd":6400,"vmag":16.72},{"hjd":6709,"vmag":16.73},{"hjd":6638,"vmag":16.73},{"hjd":6735,"vmag":16.74},{"hjd":6277,"vmag":16.77},{"hjd":6303,"vmag":16.78},{"hjd":6285,"vmag":16.79},{"hjd":6308,"vmag":16.80},{"hjd":6277,"vmag":16.81},{"hjd":6285,"vmag":16.84},{"hjd":6682,"vmag":16.77},{"hjd":6665,"vmag":16.79},{"hjd":6727,"vmag":16.78},{"hjd":6762,"vmag":16.80},{"hjd":6780,"vmag":16.79},{"hjd":6691,"vmag":16.81},{"hjd":6665,"vmag":16.81},{"hjd":6330,"vmag":16.84},{"hjd":6391,"vmag":16.85},{"hjd":6418,"vmag":16.85},{"hjd":6383,"vmag":16.86},{"hjd":6700,"vmag":16.84},{"hjd":6727,"vmag":16.86},{"hjd":6744,"vmag":16.87},{"hjd":6780,"vmag":16.88},{"hjd":6894,"vmag":16.88},{"hjd":6312,"vmag":16.87},{"hjd":6418,"vmag":16.88},{"hjd":6682,"vmag":16.89},{"hjd":6285,"vmag":16.91},{"hjd":6321,"vmag":16.91},{"hjd":6365,"vmag":16.91},{"hjd":6532,"vmag":16.91},{"hjd":6682,"vmag":16.93},{"hjd":6788,"vmag":16.95},{"hjd":6780,"vmag":16.97},{"hjd":6277,"vmag":16.96},{"hjd":6330,"vmag":16.95},{"hjd":6285,"vmag":17.02},{"hjd":6312,"vmag":17.03},{"hjd":6338,"vmag":17.03},{"hjd":6365,"vmag":17.04},{"hjd":6418,"vmag":17.05},{"hjd":6612,"vmag":17.03},{"hjd":6620,"vmag":17.04},{"hjd":6691,"vmag":17.08},{"hjd":6797,"vmag":17.02},{"hjd":6806,"vmag":17.03},{"hjd":6294,"vmag":17.07},{"hjd":6285,"vmag":17.15},{"hjd":6550,"vmag":17.17},{"hjd":6294,"vmag":17.19},{"hjd":6294,"vmag":17.21},{"hjd":6321,"vmag":17.25}
]},
"layer": [
 {"mark": {"type": "circle", "size": 20, "color": "black", "opacity": 1},
  "encoding": {
   "x": {"field": "hjd", "type": "quantitative", "scale": {"domain": [188, 7265], "nice": false, "zero": false},
         "axis": {"orient": "bottom", "values": [2000, 4000, 6000], "format": "d", "tickSize": -9, "labelPadding": 13, "title": "HJD  −  2448000.", "titlePadding": 3, "titleFontSize": 14}},
   "y": {"field": "vmag", "type": "quantitative", "scale": {"domain": [15, 17.395], "nice": false, "zero": false, "reverse": true},
         "axis": {"orient": "left", "values": [15, 15.5, 16, 16.5, 17], "labelExpr": "'' + datum.value", "tickSize": -9, "labelPadding": 19, "title": "V Mag (incl Companion)", "titlePadding": 1, "titleFontSize": 17}}
  }},
 {"mark": {"type": "circle", "opacity": 0},
  "encoding": {
   "x": {"field": "hjd", "type": "quantitative", "axis": {"orient": "bottom", "values": [500, 1000, 1500, 2500, 3000, 3500, 4500, 5000, 5500, 6500, 7000], "tickSize": -5, "labels": false, "title": null}},
   "y": {"field": "vmag", "type": "quantitative", "axis": {"orient": "left", "values": [15.1, 15.2, 15.3, 15.4, 15.6, 15.7, 15.8, 15.9, 16.1, 16.2, 16.3, 16.4, 16.6, 16.7, 16.8, 16.9, 17.1, 17.2, 17.3], "tickSize": -5, "labels": false, "title": null}}
  }},
 {"mark": {"type": "circle", "opacity": 0},
  "encoding": {
   "x": {"field": "hjd", "type": "quantitative", "axis": {"orient": "top", "values": [2000, 4000, 6000], "tickSize": -9, "labels": false, "title": null}},
   "y": {"field": "vmag", "type": "quantitative", "axis": {"orient": "right", "values": [15, 15.5, 16, 16.5, 17], "tickSize": -9, "labels": false, "title": null}}
  }},
 {"mark": {"type": "circle", "opacity": 0},
  "encoding": {
   "x": {"field": "hjd", "type": "quantitative", "axis": {"orient": "top", "values": [500, 1000, 1500, 2500, 3000, 3500, 4500, 5000, 5500, 6500, 7000], "tickSize": -5, "labels": false, "title": null}},
   "y": {"field": "vmag", "type": "quantitative", "axis": {"orient": "right", "values": [15.1, 15.2, 15.3, 15.4, 15.6, 15.7, 15.8, 15.9, 16.1, 16.2, 16.3, 16.4, 16.6, 16.7, 16.8, 16.9, 17.1, 17.2, 17.3], "tickSize": -5, "labels": false, "title": null}}
  }}
],
"resolve": {"axis": {"x": "independent", "y": "independent"}}
}
